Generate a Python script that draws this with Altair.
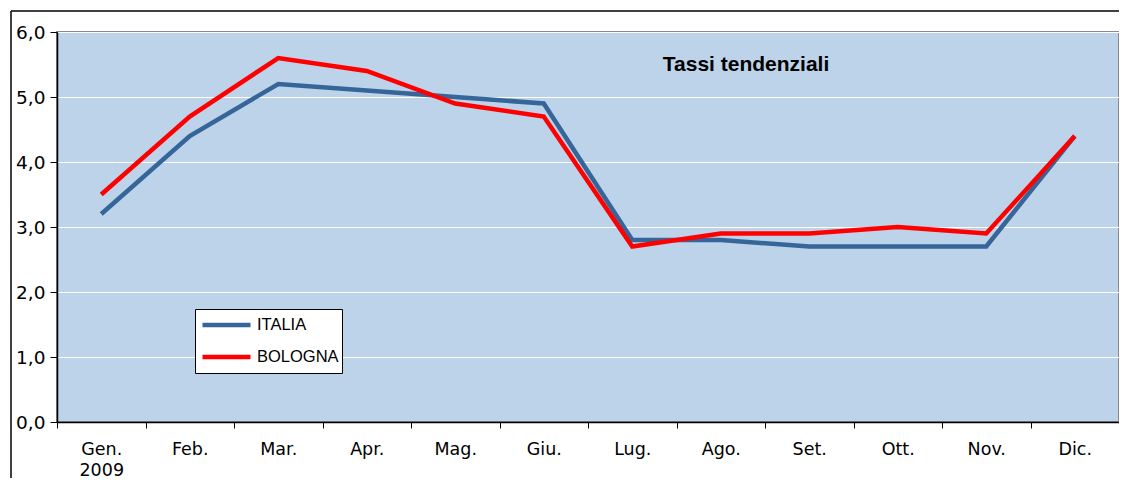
import altair as alt
import pandas as pd

mesi = ["Gen.", "Feb.", "Mar.", "Apr.", "Mag.", "Giu.", "Lug.", "Ago.", "Set.", "Ott.", "Nov.", "Dic."]
italia = [3.2, 4.4, 5.2, 5.1, 5.0, 4.9, 2.8, 2.8, 2.7, 2.7, 2.7, 4.4]
bologna = [3.5, 4.7, 5.6, 5.4, 4.9, 4.7, 2.7, 2.9, 2.9, 3.0, 2.9, 4.4]
serie = ["ITALIA", "BOLOGNA"]
colori = ["#36659A", "#FF0000"]
titolo = "Tassi tendenziali"

rows = []
for m, a, b in zip(mesi, italia, bologna):
    rows.append({"Mese": m, "Serie": "ITALIA", "Valore": a})
    rows.append({"Mese": m, "Serie": "BOLOGNA", "Valore": b})
df = pd.DataFrame(rows)

W, H = 1062, 390

x = alt.X(
    "Mese:N",
    sort=mesi,
    bandPosition=0.5,
    scale=alt.Scale(type="band", paddingInner=0, paddingOuter=0),
    axis=alt.Axis(
        title=None,
        labelAngle=0,
        tickBand="extent",
        tickSize=6,
        tickColor="#000000",
        domainColor="#000000",
        domainWidth=1.5,
        labelFontSize=17.5,
        labelFont="DejaVu Sans",
        labelColor="#000000",
        labelPadding=12,
        labelLineHeight=21,
        labelExpr="datum.value == 'Gen.' ? ['Gen.', '2009'] : datum.value",
        grid=False,
    ),
)

y = alt.Y(
    "Valore:Q",
    scale=alt.Scale(domain=[0, 6], nice=False),
    axis=alt.Axis(
        title=None,
        values=[0, 1, 2, 3, 4, 5, 6],
        labelExpr="replace(format(datum.value, '.1f'), '.', ',')",
        tickSize=7,
        tickColor="#000000",
        domainColor="#000000",
        domainWidth=1.5,
        labelFontSize=18.5,
        labelFont="DejaVu Sans",
        labelColor="#000000",
        labelPadding=5,
        grid=True,
        gridColor="#FFFFFF",
        gridWidth=1,
    ),
)

lines = alt.Chart(df).mark_line(strokeWidth=4.5).encode(
    x=x,
    y=y,
    color=alt.Color(
        "Serie:N",
        scale=alt.Scale(domain=serie, range=colori),
        sort=serie,
        legend=alt.Legend(
            title=None,
            orient="none",
            legendX=138,
            legendY=277,
            fillColor="#FFFFFF",
            strokeColor="#000000",
            padding=3,
            symbolType="stroke",
            symbolSize=2304,
            symbolStrokeWidth=4.5,
            symbolOffset=2,
            clipHeight=26,
            labelFont="Liberation Sans",
            labelFontSize=16.5,
            labelColor="#000000",
            labelOffset=4,
            rowPadding=6,
        ),
    ),
)

title_text = alt.Chart(pd.DataFrame({"t": [titolo]})).mark_text(
    font="Liberation Sans", fontSize=21, fontWeight="bold", color="#000000", align="center", baseline="middle"
).encode(x=alt.value(689), y=alt.value(33), text="t:N")

frame_src = pd.DataFrame({"t": [titolo]})
frame_top = alt.Chart(frame_src).mark_rule(color="#000000", strokeWidth=1.5, clip=False).encode(
    x=alt.value(-46), x2=alt.value(W + 10), y=alt.value(-21)
)
frame_left = alt.Chart(frame_src).mark_rule(color="#000000", strokeWidth=1.5, clip=False).encode(
    x=alt.value(-46), y=alt.value(-21), y2=alt.value(H + 80)
)

chart = alt.layer(lines, title_text, frame_top, frame_left).properties(
    width=W,
    height=H,
    background="#FFFFFF",
    padding={"left": 49, "top": 24, "right": 0, "bottom": 56},
    autosize=alt.AutoSizeParams(type="none"),
).configure_view(
    fill="#BCD3E9", stroke="#8A8A8A", strokeWidth=2
)

chart.save("out.html", embed_options={"renderer": "svg", "actions": False})
